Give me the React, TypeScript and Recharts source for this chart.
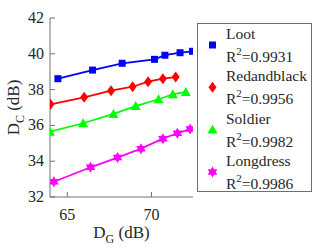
import { LineChart, Line, XAxis, YAxis } from "recharts";

const xTicks = [65, 70];
const yTicks = [32, 34, 36, 38, 40, 42];

const lootX = [64.44, 66.5, 68.26, 70.18, 70.8, 71.7, 72.44];
const lootY = [38.61, 39.09, 39.47, 39.69, 39.92, 40.06, 40.14];
const redX = [64.0, 66.0, 67.6, 68.88, 69.8, 70.68, 71.44];
const redY = [37.18, 37.57, 37.94, 38.16, 38.44, 38.61, 38.7];
const soldierX = [63.96, 65.94, 67.74, 69.06, 70.42, 71.27, 72.04];
const soldierY = [35.65, 36.12, 36.64, 37.08, 37.46, 37.74, 37.87];
const longX = [64.2, 66.38, 67.98, 69.38, 70.68, 71.54, 72.3];
const longY = [32.85, 33.66, 34.2, 34.7, 35.26, 35.56, 35.8];

const names = ["Loot", "Redandblack", "Soldier", "Longdress"];
const r2 = ["0.9931", "0.9956", "0.9982", "0.9986"];
const colors = ["#0000ff", "#ff0000", "#00ff00", "#ff00ff"];
const shapes = ["square", "diamond", "triangle", "star"];
const xs = [lootX, redX, soldierX, longX];
const ys = [lootY, redY, soldierY, longY];

const toRows = (x: number[], y: number[]) => x.map((v, i) => ({ x: v, y: y[i] }));

const FONT = "Liberation Serif";
const BOX = "#707070";
const TXT = "#262626";
const txtStyle = { fontFamily: FONT };

const Marker = ({ shape, cx, cy, color }: any) => {
  if (cx == null || cy == null) return null;
  if (shape === "square") return <rect x={cx - 3.5} y={cy - 3.5} width={7} height={7} fill={color} />;
  if (shape === "diamond")
    return <polygon points={`${cx},${cy - 5.5} ${cx + 4},${cy} ${cx},${cy + 5.5} ${cx - 4},${cy}`} fill={color} />;
  if (shape === "triangle")
    return <polygon points={`${cx},${cy - 5} ${cx + 5},${cy + 4} ${cx - 5},${cy + 4}`} fill={color} />;
  const r = 5.5;
  const tri = (rot: number) =>
    [0, 1, 2]
      .map((k) => {
        const a = rot + (k * 2 * Math.PI) / 3;
        return `${cx + r * Math.sin(a)},${cy - r * Math.cos(a)}`;
      })
      .join(" ");
  return (
    <g fill={color}>
      <polygon points={tri(0)} />
      <polygon points={tri(Math.PI)} />
    </g>
  );
};

const LeftTick = ({ x, y, payload }: any) => (
  <g>
    <line x1={x} x2={x + 5} y1={y} y2={y} stroke={BOX} />
    <text x={x - 6} y={y + 5} textAnchor="end" fontSize={16} style={txtStyle} fill={TXT}>
      {payload.value}
    </text>
  </g>
);
const RightTick = ({ x, y }: any) => <line x1={x} x2={x - 5} y1={y} y2={y} stroke={BOX} />;
const BottomTick = ({ x, y, payload }: any) => (
  <g>
    <line x1={x} x2={x} y1={y} y2={y - 5} stroke={BOX} />
    <text x={x} y={y + 23} textAnchor="middle" fontSize={16} style={txtStyle} fill={TXT}>
      {payload.value}
    </text>
  </g>
);
const TopTick = ({ x, y }: any) => <line x1={x} x2={x} y1={y} y2={y + 5} stroke={BOX} />;

const Legend = () => (
  <svg width={116} height={170} style={{ position: "absolute", left: 197, top: 23 }}>
    <rect x={0.5} y={0.5} width={114} height={168} fill="#fff" stroke={BOX} />
    {names.map((n, i) => {
      const base = 16 + i * 42.3;
      return (
        <g key={n} fontSize={15.5} fill={TXT} style={txtStyle}>
          <Marker shape={shapes[i]} cx={15.5} cy={base + 6} color={colors[i]} />
          <text x={29} y={base} style={txtStyle}>{n}</text>
          <text x={29} y={base + 23} style={txtStyle}>
            R<tspan dy={-7} fontSize={11}>2</tspan>
            <tspan dy={7}>={r2[i]}</tspan>
          </text>
        </g>
      );
    })}
  </svg>
);

export default function App() {
  return (
    <div style={{ position: "absolute", left: 0, top: 0, width: 332, height: 249, background: "#fff" }}>
      <LineChart width={332} height={249} margin={{ top: 18, right: 139, bottom: 0, left: 0 }}>
        <XAxis
          xAxisId="b"
          dataKey="x"
          type="number"
          domain={[63.97, 72.47]}
          ticks={xTicks}
          height={52}
          tickLine={false}
          tickSize={0}
          tickMargin={0}
          tick={<BottomTick />}
          stroke={BOX}
          allowDataOverflow
          label={{
            content: ({ viewBox }: any) => (
              <text
                x={viewBox.x + viewBox.width / 2}
                y={viewBox.y + 41}
                textAnchor="middle"
                fontSize={17}
                style={txtStyle}
                fill={TXT}
              >
                D<tspan fontSize={12} dy={5}>G</tspan>
                <tspan dy={-5}> (dB)</tspan>
              </text>
            ),
          }}
        />
        <XAxis
          xAxisId="t"
          orientation="top"
          dataKey="x"
          type="number"
          domain={[63.97, 72.47]}
          ticks={xTicks}
          height={0}
          tickLine={false}
          tickSize={0}
          tick={<TopTick />}
          stroke={BOX}
          allowDataOverflow
        />
        <YAxis
          yAxisId="l"
          type="number"
          domain={[32, 42]}
          ticks={yTicks}
          width={50}
          tickLine={false}
          tickSize={0}
          tickMargin={0}
          tick={<LeftTick />}
          stroke={BOX}
          allowDataOverflow
          label={{
            content: ({ viewBox }: any) => {
              const cx = 19;
              const cy = viewBox.y + viewBox.height / 2;
              return (
                <text
                  x={cx}
                  y={cy}
                  transform={`rotate(-90 ${cx} ${cy})`}
                  textAnchor="middle"
                  fontSize={17}
                  style={txtStyle}
                  fill={TXT}
                >
                  D<tspan fontSize={12} dy={5}>C</tspan>
                  <tspan dy={-5}> (dB)</tspan>
                </text>
              );
            },
          }}
        />
        <YAxis
          yAxisId="r"
          orientation="right"
          type="number"
          domain={[32, 42]}
          ticks={yTicks}
          width={0}
          tickLine={false}
          tickSize={0}
          tick={<RightTick />}
          stroke={BOX}
          allowDataOverflow
        />
        {names.map((n, i) => (
          <Line
            key={n}
            xAxisId="b"
            yAxisId="l"
            data={toRows(xs[i], ys[i])}
            dataKey="y"
            name={n}
            stroke={colors[i]}
            strokeWidth={1.8}
            isAnimationActive={false}
            dot={(p: any) => <Marker key={`${n}-${p.index}`} shape={shapes[i]} cx={p.cx} cy={p.cy} color={colors[i]} />}
          />
        ))}
      </LineChart>
      <Legend />
    </div>
  );
}
